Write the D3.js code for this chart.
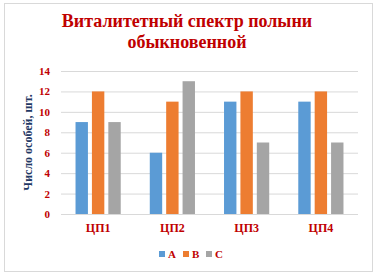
<!DOCTYPE html>
<html>
<head>
<meta charset="utf-8">
<script src="https://cdn.jsdelivr.net/npm/d3@7"></script>
<style>
  body { margin: 0; background: #fff; }
  text { font-family: "Liberation Serif", "Times New Roman", serif; font-weight: bold; }
</style>
</head>
<body>
<svg id="chart"></svg>
<script>
// Data
const categories = ['ЦП1', 'ЦП2', 'ЦП3', 'ЦП4'];
const seriesNames = ['A', 'B', 'C'];
const valuesA = [9, 6, 11, 11];
const valuesB = [12, 11, 12, 12];
const valuesC = [9, 13, 7, 7];
const yTicks = [0, 2, 4, 6, 8, 10, 12, 14];
const colors = ['#5b9bd5', '#ed7d31', '#a5a5a5'];

const W = 377, H = 276;
const plot = {left: 61, right: 358, top: 71, bottom: 214};

const svg = d3.select('#chart')
    .attr('width', W)
    .attr('height', H);

// Outer frame
svg.append('rect')
    .attr('x', 4.5).attr('y', 3.5)
    .attr('width', 368).attr('height', 268)
    .attr('fill', '#fff')
    .attr('stroke', '#d9d9d9');

// Title
const title = svg.append('text')
    .attr('text-anchor', 'middle')
    .attr('fill', '#c00000')
    .style('font-size', '18px');
title.append('tspan').attr('x', 187).attr('y', 27).text('Виталитетный спектр полыни');
title.append('tspan').attr('x', 187).attr('y', 48).text('обыкновенной');

// Scales
const x0 = d3.scaleBand()
    .domain(categories)
    .range([plot.left, plot.right])
    .padding(0);

const x1 = d3.scaleBand()
    .domain(seriesNames)
    .range([0, x0.bandwidth()])
    .paddingInner(0.244)
    .paddingOuter(0.886);

const y = d3.scaleLinear()
    .domain([0, 14])
    .range([plot.bottom, plot.top]);

// Grid
svg.append('g')
    .attr('transform', `translate(${plot.left},0)`)
    .call(d3.axisLeft(y).tickValues(yTicks).tickSize(-(plot.right - plot.left)).tickFormat(''))
    .call(g => g.select('.domain').remove())
    .selectAll('line')
    .attr('stroke', '#d9d9d9')
    .attr('stroke-width', 1);

// Y tick labels
svg.append('g')
    .attr('transform', `translate(${plot.left},0)`)
    .call(d3.axisLeft(y).tickValues(yTicks).tickSize(0).tickPadding(11))
    .call(g => g.select('.domain').remove())
    .selectAll('text')
    .attr('fill', '#c00000')
    .style('font-size', '11px')
    .style('font-family', '"Liberation Serif", serif')
    .style('font-weight', 'bold');

// Y axis title
svg.append('text')
    .attr('transform', 'rotate(-90)')
    .attr('x', -(plot.top + plot.bottom) / 2)
    .attr('y', 32)
    .attr('text-anchor', 'middle')
    .attr('fill', '#1f3864')
    .style('font-size', '12px')
    .text('Число особей, шт.');

// Bars
const rows = categories.map((c, i) => ({
    cat: c,
    vals: [valuesA[i], valuesB[i], valuesC[i]]
}));

const groups = svg.append('g')
    .selectAll('g')
    .data(rows)
    .enter()
    .append('g')
    .attr('transform', d => `translate(${x0(d.cat)},0)`);

groups.selectAll('rect')
    .data(d => d.vals.map((v, j) => ({key: seriesNames[j], value: v, color: colors[j]})))
    .enter()
    .append('rect')
    .attr('x', d => x1(d.key))
    .attr('y', d => y(d.value))
    .attr('width', x1.bandwidth())
    .attr('height', d => y(0) - y(d.value))
    .attr('fill', d => d.color);

// X labels
svg.append('g')
    .attr('transform', `translate(0,${plot.bottom})`)
    .call(d3.axisBottom(x0).tickSize(0).tickPadding(9))
    .call(g => g.select('.domain').remove())
    .selectAll('text')
    .attr('fill', '#c00000')
    .style('font-size', '12px')
    .style('font-family', '"Liberation Serif", serif')
    .style('font-weight', 'bold');

// Legend
const legendX = [159, 183, 206];
const legend = svg.append('g')
    .selectAll('g')
    .data(seriesNames)
    .enter()
    .append('g')
    .attr('transform', (d, i) => `translate(${legendX[i]},251)`);

legend.append('rect')
    .attr('width', 6)
    .attr('height', 6)
    .attr('fill', (d, i) => colors[i]);

legend.append('text')
    .attr('x', 9)
    .attr('y', 7)
    .attr('fill', '#c00000')
    .style('font-size', '11px')
    .text(d => d);
</script>
</body>
</html>
